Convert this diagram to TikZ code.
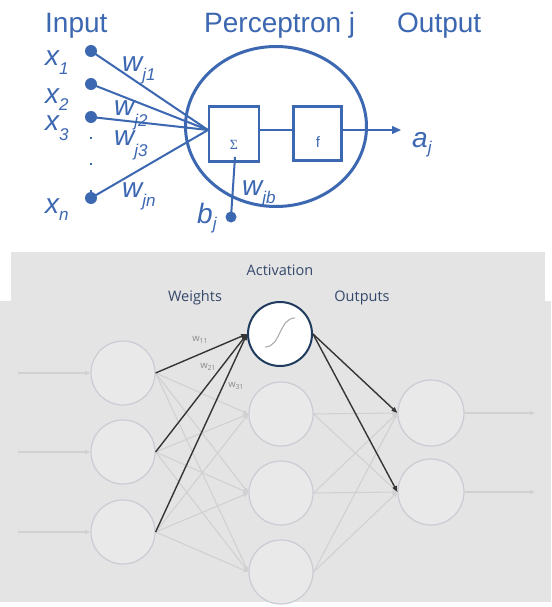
\documentclass[tikz,border=0pt]{standalone}
\usepackage{fontspec}
\setmainfont{Liberation Sans}
\newfontfamily\uifont{Open Sans}
\newfontfamily\greekserif{Liberation Serif}
\usetikzlibrary{arrows.meta,shapes.geometric}
\definecolor{pblue}{HTML}{3C67B1}
\definecolor{panel}{HTML}{E4E4E4}
\definecolor{nodefill}{HTML}{E9E9EA}
\definecolor{nodeedge}{HTML}{C9CCD3}
\definecolor{wire}{HTML}{D1D1D4}
\definecolor{darkwire}{HTML}{353535}
\definecolor{navy}{HTML}{1F3B5E}
\definecolor{labtext}{HTML}{34476A}
\definecolor{wtext}{HTML}{8A8A8A}

% italic symbol with a lowered, smaller subscript
\newcommand\subvar[3]{\itshape #1\raisebox{-#3}{\fontsize{17}{17}\selectfont #2}}
\newcommand\wsub[1]{w\raisebox{-2.5pt}{\fontsize{7}{7}\selectfont #1}}

\begin{document}
\begin{tikzpicture}[x=1pt,y=-1pt,
  big/.style={text=pblue, inner sep=0, anchor=base west, font=\fontsize{28}{30}\selectfont},
  dotnode/.style={circle, fill=pblue, inner sep=0, minimum size=12},
  tinydot/.style={rectangle, fill=pblue, inner sep=0, minimum size=2.5},
  blockbox/.style={draw=pblue, line width=2.7, inner sep=0, minimum width=50, minimum height=55},
  wireblue/.style={draw=pblue, line width=2},
  unit/.style={circle, draw=nodeedge, fill=nodefill, line width=1.2, minimum size=64, inner sep=0},
  graywire/.style={draw=wire, line width=1.1, -{Triangle[length=5,width=4]}},
  blackwire/.style={draw=darkwire, line width=1.4, -{Triangle[length=6,width=4.5]}},
  uilabel/.style={text=labtext, font=\uifont\fontsize{14.5}{16}\selectfont, inner sep=0},
  wlabel/.style={text=wtext, font=\uifont\fontsize{9.5}{10}\selectfont, inner sep=0}
]
\useasboundingbox (0,0) rectangle (551,607);
\fill[white] (0,0) rectangle (551,607);

% ---------- single perceptron ----------
\node[big] (tin) at (45,33) {Input};
\node[big] (tperc) at (204,33) {Perceptron j};
\node[big] (tout) at (397,33) {Output};

\node[draw=pblue, line width=3, ellipse, minimum width=181, minimum height=160, inner sep=0] (perc) at (276,126.5) {};

\node[blockbox] (sum) at (234,134) {};
\node[text=pblue, inner sep=0, font=\greekserif\fontsize{14}{15}\selectfont] (sigma) at (234,145) {Σ};
\node[blockbox, minimum width=48.5, minimum height=54] (fbox) at (317.5,133.5) {};
\node[text=pblue, inner sep=0, font=\fontsize{15}{16}\selectfont] (fsym) at (318,142) {f};

\coordinate (hub) at (208,130);
\coordinate (sumin) at (235,157);
\coordinate (aout) at (401,130);

\node[dotnode] (x1) at (91,51) {};
\node[dotnode] (x2) at (91,84) {};
\node[dotnode] (x3) at (91,117) {};
\node[dotnode] (xn) at (91,198) {};
\node[tinydot] (d1) at (91,138) {};
\node[tinydot] (d2) at (91,164) {};
\node[tinydot] (d3) at (91,191) {};
\node[dotnode, minimum size=11] (bdot) at (231,217) {};

\foreach \n in {x1,x2,x3,xn} \draw[wireblue] (\n.center) -- (hub);
\draw[wireblue] (bdot.center) -- (sumin);
\draw[pblue, line width=1.6] (sum.east |- hub) -- (fbox.west |- hub);
\draw[pblue, line width=1.4, -{Triangle[length=9,width=8]}] (fbox.east |- hub) -- (aout);

\node[big] (lx1) at (45,66) {\subvar{x}{1}{9pt}};
\node[big] (lx2) at (45,103) {\subvar{x}{2}{7pt}};
\node[big] (lx3) at (45,130) {\subvar{x}{3}{10pt}};
\node[big] (lxn) at (45,213) {\subvar{x}{n}{7pt}};
\node[big] (lw1) at (122,72) {\subvar{w}{j1}{9pt}};
\node[big] (lw2) at (114,115) {\subvar{w}{j2}{11pt}};
\node[big] (lw3) at (114,145) {\subvar{w}{j3}{11pt}};
\node[big] (lwn) at (122,197) {\subvar{w}{jn}{9pt}};
\node[big] (lwb) at (242,195) {\subvar{w}{jb}{8pt}};
\node[big] (lb) at (197,223) {\subvar{b}{j}{6pt}};
\node[big] (la) at (412,147) {\subvar{a}{j}{6pt}};

% ---------- layered network ----------
\fill[panel] (11,252) rectangle (545,301);
\fill[panel] (0,301) rectangle (551,602);

\node[uilabel] (tact) at (280,270) {Activation};
\node[uilabel] (twts) at (195,298) {Weights};
\node[uilabel] (touts) at (362,298) {Outputs};

\node[unit] (i1) at (123,373) {};
\node[unit] (i2) at (123,452) {};
\node[unit] (i3) at (123,532) {};
\node[unit] (h1) at (281,414) {};
\node[unit] (h2) at (281,493) {};
\node[unit] (h3) at (281,572) {};
\node[unit, minimum size=66] (o1) at (431,413) {};
\node[unit, minimum size=66] (o2) at (431,492) {};
\node[circle, draw=navy, fill=white, line width=2, minimum size=64, inner sep=0] (act) at (280,334) {};
\draw[gray!70, line width=1] (265,347) .. controls (281,347) and (279,318) .. (295,318);

\coordinate (s1) at (18,373);
\coordinate (s2) at (18,452);
\coordinate (s3) at (18,532);
\coordinate (e1) at (535,413);
\coordinate (e2) at (535,492);

\draw[graywire] (s1) -- (i1.west);
\draw[graywire] (s2) -- (i2.west);
\draw[graywire] (s3) -- (i3.west);
\draw[graywire] (o1.east) -- (e1);
\draw[graywire] (o2.east) -- (e2);

\foreach \a in {i1,i2,i3}
  \foreach \b in {h1,h2,h3}
    \draw[graywire] (\a.east) -- (\b.west);
\foreach \a in {h1,h2,h3}
  \foreach \b in {o1,o2}
    \draw[graywire] (\a.east) -- (\b.west);

\foreach \a in {i1,i2,i3} \draw[blackwire] (\a.east) -- (act.west);
\draw[blackwire] (act.east) -- (o1.west);
\draw[blackwire] (act.east) -- (o2.west);

\node[wlabel] (w11) at (200,340) {\wsub{11}};
\node[wlabel] (w21) at (208,367) {\wsub{21}};
\node[wlabel] (w31) at (236,386) {\wsub{31}};
\end{tikzpicture}
\end{document}
